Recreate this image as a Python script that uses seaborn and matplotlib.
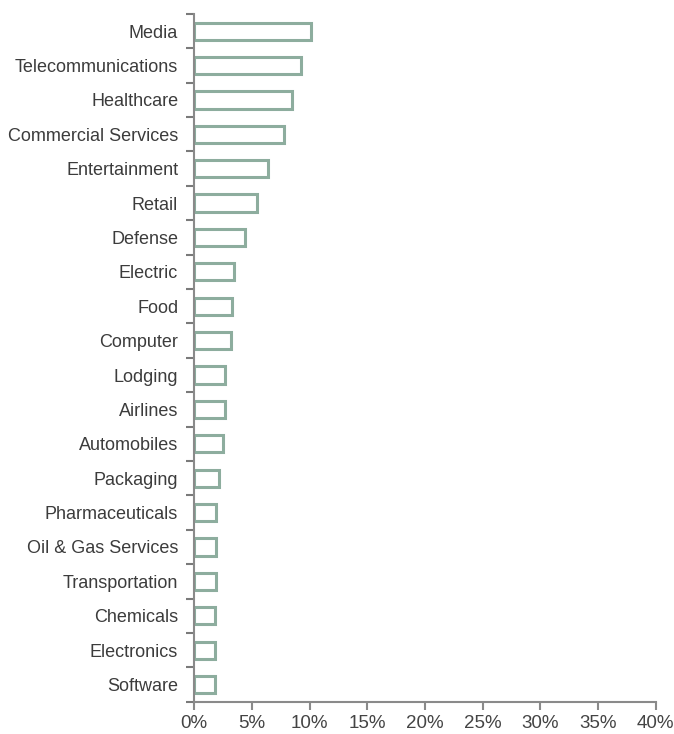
import matplotlib
matplotlib.use("Agg")
import matplotlib.pyplot as plt
import seaborn as sns
import pandas as pd
import numpy as np
from matplotlib.ticker import FixedLocator, FuncFormatter

categories = ["Media", "Telecommunications", "Healthcare", "Commercial Services",
              "Entertainment", "Retail", "Defense", "Electric", "Food", "Computer",
              "Lodging", "Airlines", "Automobiles", "Packaging", "Pharmaceuticals",
              "Oil & Gas Services", "Transportation", "Chemicals", "Electronics", "Software"]
values = [10.15, 9.3, 8.45, 7.75, 6.4, 5.45, 4.45, 3.45, 3.3, 3.2,
          2.7, 2.65, 2.5, 2.15, 1.9, 1.9, 1.9, 1.85, 1.8, 1.8]
x_ticks = [0, 5, 10, 15, 20, 25, 30, 35, 40]

df = pd.DataFrame({"sector": categories, "share": values})

sns.set_style("white")
plt.rcParams['font.family'] = ['Liberation Sans', 'DejaVu Sans']

fig = plt.figure(figsize=(6.74, 7.34), dpi=100)
ax = fig.add_axes([0.288, 0.044, 0.685, 0.937])

sns.barplot(data=df, y="sector", x="share", orient="h", ax=ax,
            color="white", edgecolor="#8DAD9E", linewidth=2.2, width=0.5,
            order=categories)

ax.set_xlim(0, 40)
ax.set_ylim(len(categories) - 0.5, -0.5)
ax.xaxis.set_major_locator(FixedLocator(x_ticks))
ax.xaxis.set_major_formatter(FuncFormatter(lambda v, p: f"{int(v)}%"))
ax.set_xlabel("")
ax.set_ylabel("")

for s in ["top", "right"]:
    ax.spines[s].set_visible(False)
for s in ["left", "bottom"]:
    ax.spines[s].set_color("#8a8a8a")
    ax.spines[s].set_linewidth(1.5)

ax.yaxis.set_minor_locator(FixedLocator(np.arange(-0.5, len(categories), 1.0)))
ax.tick_params(axis="y", which="major", length=0, pad=11.5, labelsize=13, labelcolor="#3c3c3c")
ax.tick_params(axis="y", which="minor", length=6, width=1.5, color="#7a7a7a", left=True)
ax.tick_params(axis="x", which="major", length=6, width=1.5, color="#8a8a8a",
               bottom=True, labelsize=13.5, labelcolor="#444444", pad=3.5)

fig.savefig("out.png", dpi=100, facecolor="white")
